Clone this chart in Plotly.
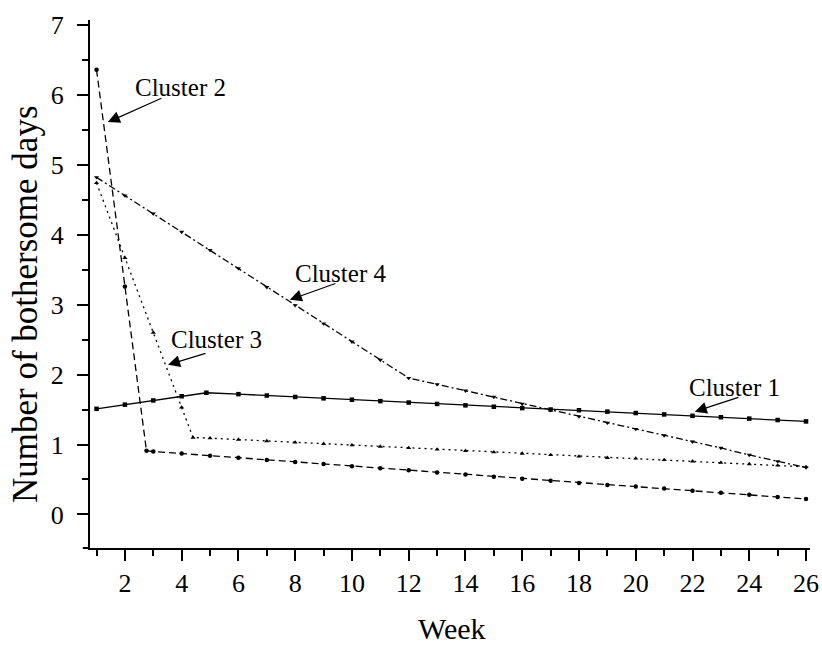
import plotly.graph_objects as go

# ---- data ----
weeks_c1 = [1, 2, 3, 4, 4.87, 6, 7, 8, 9, 10, 11, 12, 13, 14, 15, 16, 17, 18, 19, 20, 21, 22, 23, 24, 25, 26]
vals_c1 = [1.51, 1.57, 1.63, 1.69, 1.74, 1.72, 1.70, 1.68, 1.66, 1.64, 1.62, 1.60, 1.58, 1.56, 1.54,
           1.52, 1.50, 1.49, 1.47, 1.45, 1.43, 1.41, 1.39, 1.37, 1.35, 1.33]

weeks_c2 = [1, 2, 2.76, 3, 4, 5, 6, 7, 8, 9, 10, 11, 12, 13, 14, 15, 16, 17, 18, 19, 20, 21, 22, 23, 24, 25, 26]
vals_c2 = [6.36, 3.26, 0.91, 0.90, 0.87, 0.84, 0.81, 0.78, 0.75, 0.72, 0.69, 0.66, 0.63, 0.60, 0.57,
           0.54, 0.51, 0.48, 0.45, 0.42, 0.40, 0.37, 0.34, 0.31, 0.28, 0.25, 0.22]

weeks_c3 = [1, 2, 3, 4, 4.4, 5, 6, 7, 8, 9, 10, 11, 12, 13, 14, 15, 16, 17, 18, 19, 20, 21, 22, 23, 24, 25, 26]
vals_c3 = [4.74, 3.67, 2.60, 1.53, 1.10, 1.09, 1.07, 1.05, 1.03, 1.01, 0.99, 0.97, 0.95, 0.93, 0.91,
           0.89, 0.87, 0.85, 0.83, 0.81, 0.80, 0.78, 0.76, 0.74, 0.72, 0.70, 0.68]

weeks_c4 = [1, 2, 3, 4, 5, 6, 7, 8, 9, 10, 11, 12, 13, 14, 15, 16, 17, 18, 19, 20, 21, 22, 23, 24, 25, 26]
vals_c4 = [4.82, 4.56, 4.30, 4.04, 3.78, 3.52, 3.25, 2.99, 2.73, 2.47, 2.21, 1.95, 1.86, 1.77, 1.68,
           1.58, 1.49, 1.40, 1.31, 1.22, 1.13, 1.04, 0.95, 0.85, 0.76, 0.67]

series_names = ["Cluster 1", "Cluster 2", "Cluster 3", "Cluster 4"]
x_tick_vals = [2, 4, 6, 8, 10, 12, 14, 16, 18, 20, 22, 24, 26]
y_tick_vals = [0, 1, 2, 3, 4, 5, 6, 7]
x_title = "Week"
y_title = "Number of bothersome days"

FONT = "Liberation Serif, Times New Roman, serif"

fig = go.Figure()
styles = [
    (weeks_c1, vals_c1, "solid", "square"),
    (weeks_c2, vals_c2, "7px,4px", "circle"),
    (weeks_c3, vals_c3, "2px,4px", "triangle-up"),
    (weeks_c4, vals_c4, "7px,3px,2px,3px", "triangle-down"),
]
for name, (xs, ys, dash, sym) in zip(series_names, styles):
    fig.add_trace(go.Scatter(
        x=xs, y=ys, mode="lines+markers", name=name,
        line=dict(color="black", width=1.3, dash=dash),
        marker=dict(color="black", size=4.5, symbol=sym),
        showlegend=False,
    ))

# label annotations: (text, text_x, text_y, arrow tail x, tail y, arrow head x, head y)
ann = [
    ("Cluster 2", 3.97, 6.11, 3.34, 5.96, 1.40, 5.61),
    ("Cluster 4", 9.61, 3.45, 9.47, 3.31, 7.81, 3.07),
    ("Cluster 3", 5.21, 2.50, 4.89, 2.31, 3.52, 2.14),
    ("Cluster 1", 23.49, 1.82, 23.67, 1.68, 22.08, 1.47),
]
for t, tx, ty, sx, sy, hx, hy in ann:
    fig.add_annotation(
        x=tx, y=ty, xref="x", yref="y", text=t, showarrow=False,
        font=dict(family=FONT, size=25, color="black"),
    )
    fig.add_annotation(
        x=hx, y=hy, ax=sx, ay=sy, axref="x", ayref="y", xref="x", yref="y",
        text="", showarrow=True, arrowhead=2, arrowsize=2.0, arrowwidth=1.2,
        arrowcolor="black", font=dict(size=1), standoff=0, startstandoff=0,
    )

# axis titles
fig.add_annotation(
    text=y_title, xref="paper", yref="paper", x=-0.0903, y=0.462,
    showarrow=False, textangle=-90, xanchor="center", yanchor="middle",
    font=dict(family=FONT, size=35, color="black"),
)
fig.add_annotation(
    text=x_title, xref="paper", yref="paper", x=0.503, y=-0.152,
    showarrow=False, xanchor="center", yanchor="middle",
    font=dict(family=FONT, size=30, color="black"),
)

# small extension of the x axis line to the left of the y axis
fig.add_shape(type="line", xref="paper", yref="paper", x0=-0.01, x1=0, y0=0, y1=0,
              line=dict(color="black", width=2))

axis_common = dict(
    showline=True, linewidth=2, linecolor="black", showgrid=False, zeroline=False,
    ticks="outside", tickcolor="black", tickwidth=2, ticklen=11,
    tickfont=dict(family=FONT, size=26, color="black"),
    mirror=False, automargin=False,
)
fig.update_xaxes(
    **axis_common, range=[0.77, 26.14], tickvals=x_tick_vals,
    minor=dict(dtick=1, tick0=1, ticks="outside", ticklen=6, tickwidth=2, tickcolor="black"),
)
fig.update_yaxes(
    **axis_common, range=[-0.48, 7.07], tickvals=y_tick_vals, ticklabelstandoff=8,
    minor=dict(dtick=0.5, tick0=0, ticks="outside", ticklen=6, tickwidth=2, tickcolor="black"),
)
fig.update_layout(
    width=822, height=648,
    margin=dict(l=90, r=12, t=20, b=100),
    plot_bgcolor="white", paper_bgcolor="white",
)
fig.write_html(
    "out.html",
    config={"displayModeBar": False},
    post_script="document.body.style.margin='0px';document.body.style.overflow='hidden';",
)
